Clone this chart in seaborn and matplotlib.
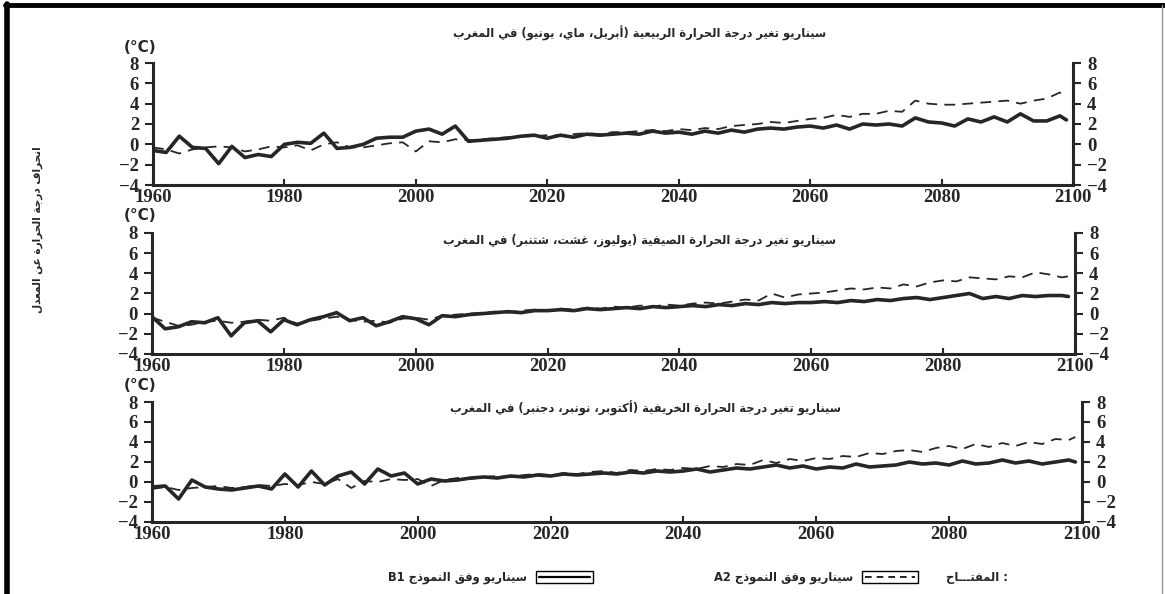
import re
import numpy as np
import pandas as pd
import matplotlib
matplotlib.use("Agg")
import matplotlib.pyplot as plt
from matplotlib.lines import Line2D
from matplotlib.patches import Rectangle
import seaborn as sns

# ---------------------------------------------------------------- data
years = list(range(1960, 2099, 2)) + [2099]

spring_b1 = [-0.6, -0.8, 0.8, -0.3, -0.4, -1.9, -0.2, -1.3, -1.0, -1.2,
             0.0, 0.2, 0.1, 1.1, -0.4, -0.3, 0.0, 0.6, 0.7, 0.7,
             1.3, 1.5, 1.0, 1.8, 0.3, 0.4, 0.5, 0.6, 0.8, 0.9,
             0.6, 0.9, 0.7, 1.0, 0.9, 1.0, 1.1, 1.0, 1.3, 1.1,
             1.2, 1.0, 1.3, 1.1, 1.4, 1.2, 1.5, 1.6, 1.5, 1.7,
             1.8, 1.6, 1.9, 1.5, 2.0, 1.9, 2.0, 1.8, 2.6, 2.2,
             2.1, 1.8, 2.5, 2.2, 2.7, 2.2, 3.0, 2.3, 2.3, 2.8,
             2.4]
spring_a2 = [-0.3, -0.5, -0.9, -0.5, -0.3, -0.2, -0.3, -0.7, -0.5, -0.2,
             -0.3, -0.1, -0.6, 0.0, 0.2, -0.3, -0.3, -0.1, 0.1, 0.2,
             -0.7, 0.3, 0.2, 0.5, 0.4, 0.5, 0.6, 0.7, 0.8, 0.8,
             0.9, 0.9, 1.0, 1.1, 1.0, 1.2, 1.2, 1.3, 1.4, 1.3,
             1.5, 1.4, 1.6, 1.5, 1.8, 1.9, 2.0, 2.2, 2.1, 2.3,
             2.5, 2.6, 2.9, 2.7, 3.0, 3.0, 3.3, 3.2, 4.3, 4.0,
             3.9, 3.9, 4.0, 4.1, 4.2, 4.3, 4.0, 4.3, 4.5, 5.1,
             4.6]

summer_b1 = [-0.3, -1.5, -1.3, -0.8, -0.9, -0.4, -2.2, -0.9, -0.7, -1.8,
             -0.6, -1.1, -0.6, -0.3, 0.1, -0.7, -0.4, -1.2, -0.8, -0.3,
             -0.5, -1.1, -0.2, -0.3, -0.1, 0.0, 0.1, 0.2, 0.1, 0.3,
             0.3, 0.4, 0.3, 0.5, 0.4, 0.5, 0.6, 0.5, 0.7, 0.6,
             0.7, 0.8, 0.7, 0.9, 0.8, 1.0, 0.9, 1.1, 1.0, 1.1,
             1.1, 1.2, 1.1, 1.3, 1.2, 1.4, 1.3, 1.5, 1.6, 1.4,
             1.6, 1.8, 2.0, 1.5, 1.7, 1.5, 1.8, 1.7, 1.8, 1.8,
             1.7]
summer_a2 = [-0.4, -0.8, -1.2, -1.1, -0.8, -0.7, -0.9, -0.8, -0.6, -0.7,
             -0.4, -1.0, -0.7, -0.5, -0.3, -0.6, -0.8, -0.7, -0.9, -0.5,
             -0.4, -0.6, -0.2, -0.1, 0.0, 0.1, 0.2, 0.1, 0.3, 0.4,
             0.3, 0.5, 0.4, 0.6, 0.5, 0.7, 0.6, 0.8, 0.7, 0.9,
             0.8, 1.0, 1.1, 1.0, 1.2, 1.4, 1.3, 2.0, 1.6, 1.9,
             2.0, 2.1, 2.3, 2.5, 2.4, 2.6, 2.5, 2.9, 2.7, 3.1,
             3.3, 3.2, 3.6, 3.5, 3.4, 3.7, 3.6, 4.1, 3.9, 3.6,
             3.7]

autumn_b1 = [-0.5, -0.4, -1.7, 0.2, -0.5, -0.7, -0.8, -0.6, -0.4, -0.7,
             0.8, -0.5, 1.1, -0.3, 0.6, 1.0, -0.2, 1.3, 0.6, 0.9,
             -0.2, 0.3, 0.1, 0.2, 0.4, 0.5, 0.4, 0.6, 0.5, 0.7,
             0.6, 0.8, 0.7, 0.8, 0.9, 0.8, 1.0, 0.9, 1.1, 1.0,
             1.1, 1.3, 1.0, 1.2, 1.4, 1.3, 1.5, 1.7, 1.4, 1.6,
             1.3, 1.5, 1.4, 1.8, 1.5, 1.6, 1.7, 2.0, 1.8, 1.9,
             1.7, 2.1, 1.8, 1.9, 2.2, 1.9, 2.1, 1.8, 2.0, 2.2,
             2.0]
autumn_a2 = [-0.7, -0.5, -0.8, -0.6, -0.5, -0.4, -0.6, -0.5, -0.3, -0.4,
             -0.2, -0.3, 0.0, -0.2, 0.3, -0.6, 0.1, 0.0, 0.3, 0.2,
             0.3, -0.4, 0.2, 0.4, 0.3, 0.5, 0.6, 0.5, 0.7, 0.8,
             0.7, 0.9, 0.8, 1.0, 1.1, 0.9, 1.2, 1.1, 1.3, 1.2,
             1.4, 1.3, 1.6, 1.5, 1.8, 1.7, 2.2, 1.9, 2.3, 2.1,
             2.4, 2.3, 2.6, 2.5, 2.9, 2.8, 3.1, 3.2, 3.0, 3.4,
             3.6, 3.3, 3.8, 3.5, 3.9, 3.6, 4.0, 3.8, 4.3, 4.2,
             4.5]

panel_titles = [
    "سيناريو تغير درجة الحرارة الربيعية (أبريل، ماي، يونيو) في المغرب",
    "سيناريو تغير درجة الحرارة الصيفية (يوليوز، غشت، شتنبر) في المغرب",
    "سيناريو تغير درجة الحرارة الخريفية (أكتوبر، نونبر، دجنبر) في المغرب",
]
y_label = "انحراف درجة الحرارة عن المعدل"
unit_label = "(°C)"
legend_key = ": المفتـــاح"
label_a2 = "سيناريو وفق النموذج A2"
label_b1 = "سيناريو وفق النموذج B1"
x_ticks = [1960, 1980, 2000, 2020, 2040, 2060, 2080, 2100]
y_ticks = [-4, -2, 0, 2, 4, 6, 8]

# ------------------------------------------------- Arabic text shaping
# (presentation-form base code, number of contextual forms)
FORMS = {
    'ء': (0xFE80, 1), 'آ': (0xFE81, 2), 'أ': (0xFE83, 2), 'ؤ': (0xFE85, 2),
    'إ': (0xFE87, 2), 'ئ': (0xFE89, 4), 'ا': (0xFE8D, 2), 'ب': (0xFE8F, 4),
    'ة': (0xFE93, 2), 'ت': (0xFE95, 4), 'ث': (0xFE99, 4), 'ج': (0xFE9D, 4),
    'ح': (0xFEA1, 4), 'خ': (0xFEA5, 4), 'د': (0xFEA9, 2), 'ذ': (0xFEAB, 2),
    'ر': (0xFEAD, 2), 'ز': (0xFEAF, 2), 'س': (0xFEB1, 4), 'ش': (0xFEB5, 4),
    'ص': (0xFEB9, 4), 'ض': (0xFEBD, 4), 'ط': (0xFEC1, 4), 'ظ': (0xFEC5, 4),
    'ع': (0xFEC9, 4), 'غ': (0xFECD, 4), 'ف': (0xFED1, 4), 'ق': (0xFED5, 4),
    'ك': (0xFED9, 4), 'ل': (0xFEDD, 4), 'م': (0xFEE1, 4), 'ن': (0xFEE5, 4),
    'ه': (0xFEE9, 4), 'و': (0xFEED, 2), 'ى': (0xFEEF, 2), 'ي': (0xFEF1, 4),
}
LAM_ALEF = {'آ': 0xFEF5, 'أ': 0xFEF7, 'إ': 0xFEF9, 'ا': 0xFEFB}
TATWEEL = 'ـ'


def joins_forward(ch):
    return ch == TATWEEL or (ch in FORMS and FORMS[ch][1] == 4)


def joins_backward(ch):
    return ch == TATWEEL or (ch in FORMS and FORMS[ch][1] >= 2)


def shape(text):
    out, i, n = [], 0, len(text)
    while i < n:
        ch = text[i]
        prev = text[i - 1] if i > 0 else ''
        nxt = text[i + 1] if i + 1 < n else ''
        link_prev = joins_forward(prev) and joins_backward(ch)
        if ch == 'ل' and nxt in LAM_ALEF:
            out.append(chr(LAM_ALEF[nxt] + (1 if link_prev else 0)))
            i += 2
            continue
        if ch not in FORMS:
            out.append(ch)
            i += 1
            continue
        base, nforms = FORMS[ch]
        link_next = nforms == 4 and joins_backward(nxt)
        if link_prev and link_next:
            code = base + 3
        elif link_prev:
            code = base + 1
        elif link_next:
            code = base + 2
        else:
            code = base
        out.append(chr(code))
        i += 1
    return ''.join(out)


def rtl(text):
    """Shape Arabic text and lay it out right-to-left for display."""
    shaped = shape(text)
    parts = re.split(r'([A-Za-z0-9°]+)', shaped)
    mirror = str.maketrans('()', ')(')
    out = [p if k % 2 else p[::-1].translate(mirror) for k, p in enumerate(parts)]
    return ''.join(reversed(out))


# ---------------------------------------------------------------- style
sns.set_style("ticks")
plt.rcParams['font.family'] = ['Liberation Serif', 'DejaVu Sans']
plt.rcParams['axes.linewidth'] = 2.2
plt.rcParams['xtick.major.width'] = 1.5
plt.rcParams['ytick.major.width'] = 1.5

LINE_COLOR = '#262626'
ARABIC_FONT = 'DejaVu Sans'

fig = plt.figure(figsize=(11.65, 5.94), dpi=100)

# axes rectangles in figure fractions (left, bottom, width, height)
rects = [
    (153 / 1165, 1 - 185 / 594, 920 / 1165, 122 / 594),
    (152 / 1165, 1 - 354 / 594, 923 / 1165, 121 / 594),
    (152 / 1165, 1 - 522 / 594, 930 / 1165, 120 / 594),
]
series = [(spring_b1, spring_a2), (summer_b1, summer_a2), (autumn_b1, autumn_a2)]
title_pos = [(640 / 1165, 1 - 33 / 594), (640 / 1165, 1 - 240 / 594), (646 / 1165, 1 - 408 / 594)]
unit_pos = [(140 / 1165, 1 - 48 / 594), (140 / 1165, 1 - 216 / 594), (140 / 1165, 1 - 385 / 594)]

for rect, (b1, a2), title, tpos, upos in zip(rects, series, panel_titles, title_pos, unit_pos):
    ax = fig.add_axes(rect)
    df = pd.DataFrame({'year': years, 'B1': b1, 'A2': a2})
    sns.lineplot(data=df, x='year', y='A2', ax=ax, color=LINE_COLOR,
                 linewidth=1.3, linestyle=(0, (6, 4)))
    sns.lineplot(data=df, x='year', y='B1', ax=ax, color=LINE_COLOR,
                 linewidth=2.6)
    ax.set_xlim(1960, 2100)
    ax.set_ylim(-4, 8)
    ax.set_xticks(x_ticks)
    ax.set_yticks(y_ticks)
    ax.set_xticklabels([str(t) for t in x_ticks], fontweight='bold', fontsize=13.5)
    ax.set_yticklabels([str(t).replace('-', '\u2212') for t in y_ticks],
                       fontweight='bold', fontsize=13.5)
    ax.tick_params(axis='y', which='both', left=True, right=True,
                   labelleft=True, labelright=True, direction='out',
                   length=6, pad=4)
    ax.tick_params(axis='x', direction='in', length=4, pad=3)
    ax.set_xlabel('')
    ax.set_ylabel('')
    ax.spines['top'].set_visible(False)
    ax.spines['right'].set_visible(True)
    ax.grid(False)
    fig.text(tpos[0], tpos[1], rtl(title), ha='center', va='center',
             fontsize=8.3, fontweight='bold', family=ARABIC_FONT)
    fig.text(upos[0], upos[1], unit_label, ha='center', va='center',
             fontsize=11, fontweight='bold', family='DejaVu Sans')

# common vertical axis title
fig.text(38 / 1165, 1 - 230 / 594, rtl(y_label), rotation=90, ha='center',
         va='center', fontsize=7.6, fontweight='bold', family=ARABIC_FONT)

# ---------------------------------------------------------------- key
ky = 1 - 577 / 594
box_h = 12 / 594
fig.text(1008 / 1165, ky, rtl(legend_key), ha='right', va='center',
         fontsize=8.3, fontweight='bold', family=ARABIC_FONT)

for x0, x1, ls, lw, label in [
        (862, 918, (0, (4, 3)), 1.2, label_a2),
        (536, 593, '-', 1.6, label_b1)]:
    fig.patches.append(Rectangle((x0 / 1165, ky - box_h / 2), (x1 - x0) / 1165,
                                 box_h, transform=fig.transFigure, fill=False,
                                 edgecolor='black', linewidth=1.0))
    fig.lines.append(Line2D([(x0 + 3) / 1165, (x1 - 3) / 1165], [ky, ky],
                            transform=fig.transFigure, color='black',
                            linewidth=lw, linestyle=ls))
    fig.text((x0 - 9) / 1165, ky, rtl(label), ha='right', va='center',
             fontsize=8.3, fontweight='bold', family=ARABIC_FONT)

# page frame
fig.lines.append(Line2D([7 / 1165, 7 / 1165], [0, 1 - 4 / 594],
                        transform=fig.transFigure, color='black', linewidth=4))
fig.lines.append(Line2D([5 / 1165, 1], [1 - 5 / 594, 1 - 5 / 594],
                        transform=fig.transFigure, color='black', linewidth=3.5))
fig.lines.append(Line2D([1162 / 1165, 1162 / 1165], [0, 1 - 5 / 594],
                        transform=fig.transFigure, color='#9a9a9a', linewidth=1))

fig.savefig('out.png', dpi=100)
